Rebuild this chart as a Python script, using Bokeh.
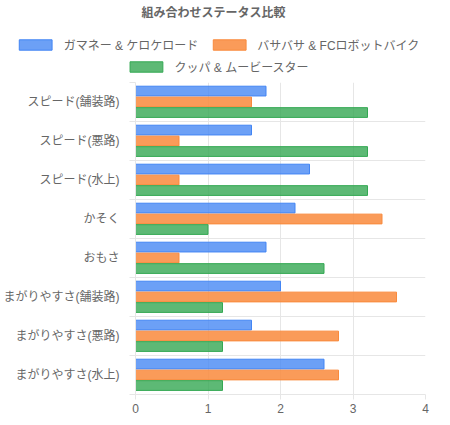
from bokeh.plotting import figure
from bokeh.layouts import column, row
from bokeh.models import (ColumnDataSource, FactorRange, Range1d, FixedTicker,
                          Legend, LegendItem, Label, LinearAxis, CustomJSTickFormatter)
from bokeh.transform import dodge
from bokeh.embed import file_html
from bokeh.resources import INLINE

categories = ["スピード(舗装路)", "スピード(悪路)", "スピード(水上)", "かそく",
              "おもさ", "まがりやすさ(舗装路)", "まがりやすさ(悪路)", "まがりやすさ(水上)"]
series_names = ["ガマネー & ケロケロード", "バサバサ & FCロボットバイク", "クッパ & ムービースター"]
gamane = [1.8, 1.6, 2.4, 2.2, 1.8, 2.0, 1.6, 2.6]
basabasa = [1.6, 0.6, 0.6, 3.4, 0.6, 3.6, 2.8, 2.8]
kuppa = [3.2, 3.2, 3.2, 1.0, 2.6, 1.2, 1.2, 1.2]
x_ticks = [0, 1, 2, 3, 4]
title_text = "組み合わせステータス比較"

FONT = "'Liberation Sans', 'Noto Sans CJK JP'"
GRAY = "#666666"
GRID = "#e6e6e6"
W = 434
HEAD_H = 78
MAIN_H = 337

styles = [dict(fill_color="#4285F4", fill_alpha=0.78, line_color="#4285F4"),
          dict(fill_color="#F98A3C", fill_alpha=0.85, line_color="#F98A3C"),
          dict(fill_color="#34A853", fill_alpha=0.8, line_color="#34A853")]
fields = ["a", "b", "c"]

src = ColumnDataSource(dict(cat=categories, a=gamane, b=basabasa, c=kuppa))

# ---------------- main chart ----------------
p = figure(width=W, height=MAIN_H, output_backend="svg", toolbar_location=None,
           x_range=Range1d(0, 4), y_range=FactorRange(factors=categories[::-1]),
           min_border_left=128, min_border_right=9, min_border_top=4,
           min_border_bottom=20)
p.outline_line_color = None

offsets = [0.28, 0.0, -0.27]
for field, st, off in zip(fields, styles, offsets):
    p.hbar(y=dodge("cat", off, range=p.y_range), right=field, left=0, height=0.25,
           source=src, line_width=1, **st)

p.xaxis.ticker = FixedTicker(ticks=x_ticks)
p.xaxis.major_label_text_font = "'Liberation Sans'"
p.xaxis.major_label_text_font_size = "12px"
p.xaxis.major_label_text_color = GRAY
p.xaxis.axis_line_color = GRID
p.xaxis.major_tick_line_color = GRID
p.xaxis.major_tick_out = 5
p.xaxis.major_tick_in = 0
p.xaxis.minor_tick_line_color = None
p.xaxis.major_label_standoff = 4

cat_axis = p.yaxis[0]
cat_axis.major_label_text_font = FONT
cat_axis.major_label_text_font_size = "12px"
cat_axis.major_label_text_color = GRAY
cat_axis.axis_line_color = None
cat_axis.major_tick_line_color = None
cat_axis.major_label_standoff = 4

# small tick marks at category boundaries (Chart.js style), next to the frame
boundaries = list(range(len(categories) + 1))
tick_axis = LinearAxis(ticker=FixedTicker(ticks=boundaries),
                       formatter=CustomJSTickFormatter(code="return ''"),
                       major_label_text_font_size="12px", major_label_standoff=0,
                       axis_line_color=GRID, major_tick_line_color=GRID,
                       major_tick_out=6, major_tick_in=0, minor_tick_line_color=None)
p.left = [tick_axis, cat_axis]

p.xgrid.ticker = FixedTicker(ticks=x_ticks)
p.xgrid.grid_line_color = GRID
p.ygrid.ticker = FixedTicker(ticks=boundaries)
p.ygrid.grid_line_color = GRID

# ---------------- header: title + legend (own frame spans full width) ----------------
h = figure(width=W, height=HEAD_H, output_backend="svg", toolbar_location=None,
           x_range=Range1d(-2, -1), y_range=FactorRange(factors=categories[::-1]),
           x_axis_type=None, y_axis_type=None,
           min_border_left=0, min_border_right=0, min_border_top=0, min_border_bottom=0)
h.outline_line_color = None
h.xgrid.visible = False
h.ygrid.visible = False

# same series drawn in the header's (empty) view window only to feed the legend
hr = [h.hbar(y="cat", right=field, left=0, height=0.25, source=src, line_width=1, **st)
      for field, st in zip(fields, styles)]

h.add_layout(Label(x=W / 2 - 4, y=HEAD_H - 12, x_units="screen", y_units="screen",
                   text=title_text, text_align="center", text_baseline="middle",
                   text_font=FONT, text_font_size="12px", text_font_style="bold",
                   text_color=GRAY))

def make_legend(items, margin):
    return Legend(items=items, location="top", orientation="horizontal",
                  glyph_width=41, glyph_height=13, label_height=13, label_standoff=8,
                  spacing=10, padding=0, margin=margin, border_line_color=None,
                  background_fill_alpha=0, label_text_font=FONT,
                  label_text_font_size="12px", label_text_color=GRAY,
                  label_text_baseline="middle")

lg1 = make_legend([LegendItem(label=series_names[0], renderers=[hr[0]]),
                   LegendItem(label=series_names[1], renderers=[hr[1]])], 36)
lg2 = make_legend([LegendItem(label=series_names[2], renderers=[hr[2]])], 58)
h.add_layout(lg1, "center")
h.add_layout(lg2, "center")

layout = column(row(h), row(p), spacing=0)
open("out.html", "w").write(file_html(layout, INLINE))
